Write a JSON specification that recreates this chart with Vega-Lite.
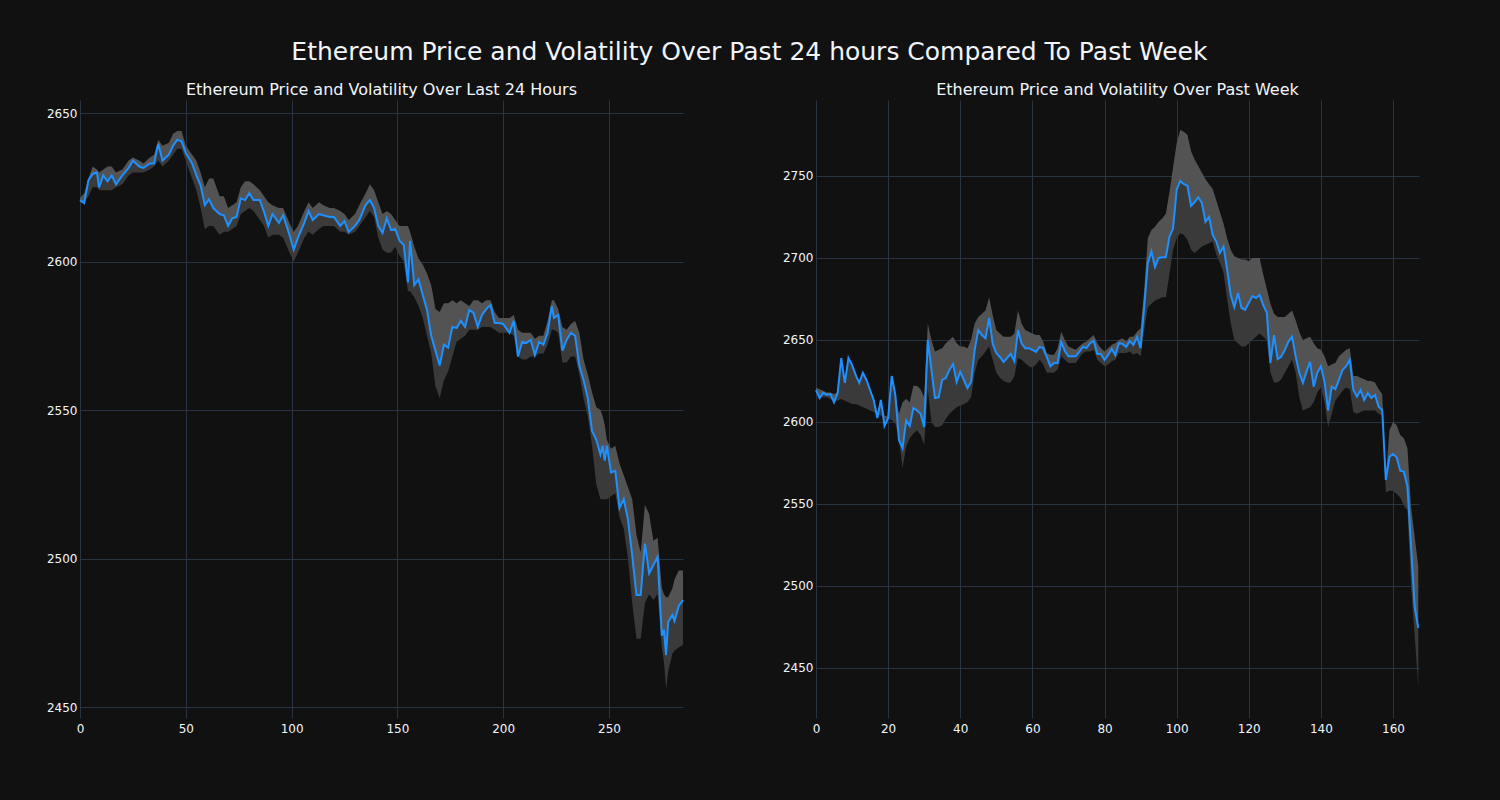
{
"$schema": "https://vega.github.io/schema/vega-lite/v6.json",
"background": "#111111",
"padding": {"left": 46, "top": 40, "right": 78, "bottom": 67},
"config": {
  "view": {"stroke": null},
  "font": "DejaVu Sans",
  "axis": {"domain": false, "ticks": false, "gridColor": "#283442", "gridWidth": 1, "labelColor": "#f2f5fa", "labelFontSize": 12, "labelFont": "DejaVu Sans", "title": null, "format": "d", "labelFlush": false},
  "title": {"color": "#f2f5fa", "font": "DejaVu Sans", "fontWeight": "normal"}
},
"title": {"text": "Ethereum Price and Volatility Over Past 24 hours Compared To Past Week", "fontSize": 25, "anchor": "middle", "offset": 17, "dx": 15},
"spacing": 95,
"datasets": {
"left": [
{"x":0,"p":2620.7,"lo":2619.5,"hi":2621.5},{"x":2,"p":2619.7,"lo":2620,"hi":2623},{"x":4,"p":2627.4,"lo":2622,"hi":2628},{"x":6,"p":2629.5,"lo":2625,"hi":2632},{"x":8,"p":2630,"lo":2625,"hi":2631},{"x":9,"p":2625,"lo":2624,"hi":2630},{"x":11,"p":2629,"lo":2624,"hi":2631},{"x":13,"p":2627,"lo":2624,"hi":2632},{"x":15,"p":2629,"lo":2624,"hi":2632},{"x":17,"p":2626,"lo":2625,"hi":2630},{"x":20,"p":2629,"lo":2626,"hi":2631},{"x":23,"p":2631.5,"lo":2629,"hi":2634},{"x":25,"p":2634,"lo":2630,"hi":2635},{"x":28,"p":2632,"lo":2630,"hi":2634},{"x":30,"p":2631.5,"lo":2630,"hi":2633},{"x":33,"p":2633,"lo":2631,"hi":2635},{"x":35,"p":2633,"lo":2632,"hi":2636},{"x":37,"p":2639.6,"lo":2634,"hi":2641},{"x":39,"p":2634,"lo":2632,"hi":2639},{"x":42,"p":2636,"lo":2634,"hi":2640},{"x":44,"p":2639,"lo":2636,"hi":2643},{"x":46,"p":2641,"lo":2638,"hi":2644},{"x":48,"p":2640.5,"lo":2638,"hi":2644},{"x":50,"p":2636.5,"lo":2634,"hi":2639},{"x":53,"p":2633,"lo":2628,"hi":2636},{"x":55,"p":2629,"lo":2624,"hi":2634},{"x":57,"p":2625.7,"lo":2618,"hi":2630},{"x":59,"p":2619,"lo":2611,"hi":2625},{"x":61,"p":2621,"lo":2612,"hi":2628},{"x":63,"p":2618,"lo":2612,"hi":2628},{"x":66,"p":2616,"lo":2609,"hi":2622},{"x":68,"p":2615.6,"lo":2610,"hi":2622},{"x":70,"p":2612,"lo":2610,"hi":2618},{"x":72,"p":2614.6,"lo":2611,"hi":2619},{"x":74,"p":2615,"lo":2612,"hi":2620},{"x":76,"p":2621.3,"lo":2616,"hi":2625},{"x":78,"p":2620.7,"lo":2617,"hi":2627},{"x":80,"p":2623,"lo":2618,"hi":2627},{"x":82,"p":2620.7,"lo":2617,"hi":2626},{"x":85,"p":2620.7,"lo":2614,"hi":2624},{"x":87,"p":2616.7,"lo":2612,"hi":2622},{"x":89,"p":2612,"lo":2608,"hi":2620},{"x":91,"p":2616,"lo":2609,"hi":2619},{"x":94,"p":2613,"lo":2609,"hi":2618},{"x":96,"p":2615.6,"lo":2608,"hi":2618},{"x":99,"p":2609,"lo":2603,"hi":2613},{"x":101,"p":2604,"lo":2600,"hi":2610},{"x":103,"p":2608,"lo":2603,"hi":2612},{"x":106,"p":2613,"lo":2608,"hi":2617},{"x":108,"p":2617,"lo":2610,"hi":2620},{"x":110,"p":2614,"lo":2609,"hi":2618},{"x":113,"p":2616,"lo":2611,"hi":2620},{"x":115,"p":2615.6,"lo":2612,"hi":2619},{"x":118,"p":2615,"lo":2612,"hi":2618},{"x":120,"p":2615,"lo":2612,"hi":2618},{"x":123,"p":2612,"lo":2610,"hi":2617},{"x":125,"p":2613.6,"lo":2610,"hi":2616},{"x":127,"p":2610,"lo":2609,"hi":2614},{"x":130,"p":2612,"lo":2610,"hi":2616},{"x":132,"p":2614,"lo":2612,"hi":2619},{"x":135,"p":2619,"lo":2615,"hi":2623},{"x":137,"p":2620.7,"lo":2617,"hi":2626},{"x":139,"p":2618,"lo":2615,"hi":2624},{"x":141,"p":2612,"lo":2608,"hi":2620},{"x":143,"p":2609.6,"lo":2604,"hi":2616},{"x":145,"p":2614.6,"lo":2603,"hi":2617},{"x":147,"p":2610.6,"lo":2603,"hi":2616},{"x":149,"p":2611,"lo":2605,"hi":2614},{"x":151,"p":2607,"lo":2602,"hi":2612},{"x":153,"p":2605.6,"lo":2600,"hi":2612},{"x":155,"p":2593,"lo":2590,"hi":2612},{"x":156,"p":2607,"lo":2590,"hi":2610},{"x":158,"p":2592,"lo":2588,"hi":2605},{"x":160,"p":2594,"lo":2585,"hi":2601},{"x":162,"p":2588.7,"lo":2581,"hi":2599},{"x":164,"p":2583.7,"lo":2575,"hi":2596},{"x":166,"p":2575,"lo":2569,"hi":2592},{"x":168,"p":2570,"lo":2558,"hi":2584},{"x":170,"p":2565,"lo":2554,"hi":2583},{"x":172,"p":2572,"lo":2560,"hi":2586},{"x":174,"p":2571,"lo":2563,"hi":2586},{"x":176,"p":2578,"lo":2568,"hi":2587},{"x":178,"p":2577.6,"lo":2573,"hi":2586},{"x":180,"p":2580,"lo":2574,"hi":2587},{"x":182,"p":2578,"lo":2575,"hi":2586},{"x":184,"p":2583.7,"lo":2577,"hi":2585},{"x":186,"p":2582.7,"lo":2577,"hi":2587},{"x":188,"p":2578,"lo":2577,"hi":2587},{"x":190,"p":2582,"lo":2578,"hi":2586},{"x":192,"p":2584,"lo":2578,"hi":2587},{"x":194,"p":2585.4,"lo":2578,"hi":2587},{"x":196,"p":2579.3,"lo":2577,"hi":2583},{"x":198,"p":2579.3,"lo":2576,"hi":2581},{"x":200,"p":2579,"lo":2576,"hi":2581},{"x":203,"p":2576,"lo":2576,"hi":2581},{"x":205,"p":2580,"lo":2575,"hi":2582},{"x":207,"p":2568,"lo":2568,"hi":2577},{"x":209,"p":2573,"lo":2567,"hi":2576},{"x":211,"p":2572.6,"lo":2567,"hi":2576},{"x":213,"p":2573.6,"lo":2568,"hi":2576},{"x":215,"p":2568.5,"lo":2568,"hi":2574},{"x":217,"p":2573,"lo":2569,"hi":2575},{"x":219,"p":2572,"lo":2569,"hi":2575},{"x":221,"p":2576,"lo":2572,"hi":2580},{"x":223,"p":2585,"lo":2577,"hi":2587},{"x":224,"p":2581,"lo":2577,"hi":2587},{"x":226,"p":2582,"lo":2576,"hi":2584},{"x":228,"p":2570,"lo":2566,"hi":2578},{"x":230,"p":2573.6,"lo":2566,"hi":2577},{"x":232,"p":2576,"lo":2568,"hi":2579},{"x":234,"p":2575,"lo":2568,"hi":2580},{"x":236,"p":2565,"lo":2562,"hi":2576},{"x":238,"p":2560,"lo":2554,"hi":2567},{"x":240,"p":2554,"lo":2548,"hi":2562},{"x":242,"p":2543,"lo":2538,"hi":2556},{"x":244,"p":2540,"lo":2525,"hi":2551},{"x":246,"p":2535,"lo":2520,"hi":2550},{"x":247,"p":2538,"lo":2520,"hi":2548},{"x":248,"p":2533,"lo":2520,"hi":2545},{"x":249,"p":2538,"lo":2520,"hi":2540},{"x":251,"p":2529,"lo":2521,"hi":2537},{"x":253,"p":2529.5,"lo":2522,"hi":2538},{"x":255,"p":2517,"lo":2514,"hi":2532},{"x":257,"p":2520,"lo":2510,"hi":2528},{"x":259,"p":2513,"lo":2500,"hi":2524},{"x":261,"p":2501,"lo":2485,"hi":2520},{"x":263,"p":2487.7,"lo":2473,"hi":2508},{"x":265,"p":2487.7,"lo":2473,"hi":2502},{"x":267,"p":2505,"lo":2485,"hi":2518},{"x":269,"p":2495,"lo":2488,"hi":2515},{"x":271,"p":2497.8,"lo":2486,"hi":2506},{"x":273,"p":2500.5,"lo":2488,"hi":2507},{"x":275,"p":2474,"lo":2470,"hi":2490},{"x":276,"p":2476,"lo":2465,"hi":2488},{"x":277,"p":2467.5,"lo":2456,"hi":2487},{"x":278,"p":2478.6,"lo":2462,"hi":2487},{"x":280,"p":2481,"lo":2468,"hi":2490},{"x":281,"p":2479,"lo":2469,"hi":2493},{"x":283,"p":2484,"lo":2470,"hi":2496},{"x":285,"p":2486,"lo":2471,"hi":2496}
],
"right": [
{"x":0,"p":2619.5,"lo":2618,"hi":2621},{"x":1,"p":2614.6,"lo":2615,"hi":2620},{"x":2,"p":2617.7,"lo":2615,"hi":2619},{"x":3,"p":2616.5,"lo":2615,"hi":2618},{"x":4,"p":2617,"lo":2614,"hi":2618},{"x":5,"p":2612,"lo":2613,"hi":2617},{"x":6,"p":2617.7,"lo":2613,"hi":2618},{"x":7,"p":2639,"lo":2614,"hi":2639},{"x":8,"p":2623.8,"lo":2613,"hi":2624},{"x":9,"p":2639,"lo":2612,"hi":2639},{"x":10,"p":2634.8,"lo":2611,"hi":2635},{"x":11,"p":2628.7,"lo":2611,"hi":2629},{"x":12,"p":2623.8,"lo":2610,"hi":2624},{"x":13,"p":2630,"lo":2609,"hi":2630},{"x":14,"p":2625.6,"lo":2608,"hi":2626},{"x":15,"p":2619.5,"lo":2607,"hi":2620},{"x":16,"p":2613.4,"lo":2606,"hi":2614},{"x":17,"p":2602.4,"lo":2605,"hi":2606},{"x":18,"p":2613.4,"lo":2604,"hi":2613},{"x":19,"p":2597.6,"lo":2603,"hi":2604},{"x":20,"p":2602.4,"lo":2602,"hi":2603},{"x":21,"p":2628,"lo":2601,"hi":2628},{"x":22,"p":2616.5,"lo":2599,"hi":2616},{"x":23,"p":2589,"lo":2590,"hi":2605},{"x":24,"p":2584,"lo":2572,"hi":2612},{"x":25,"p":2601,"lo":2585,"hi":2614},{"x":26,"p":2597.6,"lo":2590,"hi":2612},{"x":27,"p":2608.5,"lo":2593,"hi":2622},{"x":28,"p":2607,"lo":2595,"hi":2622},{"x":29,"p":2605,"lo":2592,"hi":2620},{"x":30,"p":2597,"lo":2586,"hi":2615},{"x":31,"p":2650,"lo":2620,"hi":2660},{"x":32,"p":2631.7,"lo":2600,"hi":2650},{"x":33,"p":2614.6,"lo":2597,"hi":2643},{"x":34,"p":2615,"lo":2597,"hi":2644},{"x":35,"p":2625.6,"lo":2598,"hi":2645},{"x":36,"p":2626.8,"lo":2602,"hi":2648},{"x":37,"p":2631.7,"lo":2605,"hi":2650},{"x":38,"p":2635.4,"lo":2607,"hi":2652},{"x":39,"p":2624.4,"lo":2609,"hi":2648},{"x":40,"p":2630.5,"lo":2610,"hi":2646},{"x":41,"p":2625.6,"lo":2611,"hi":2646},{"x":42,"p":2620.7,"lo":2612,"hi":2645},{"x":43,"p":2624.4,"lo":2615,"hi":2650},{"x":44,"p":2644,"lo":2630,"hi":2660},{"x":45,"p":2656,"lo":2638,"hi":2664},{"x":46,"p":2653,"lo":2640,"hi":2666},{"x":47,"p":2651,"lo":2643,"hi":2668},{"x":48,"p":2663.4,"lo":2646,"hi":2676},{"x":49,"p":2647.6,"lo":2638,"hi":2665},{"x":50,"p":2642,"lo":2630,"hi":2656},{"x":51,"p":2639.6,"lo":2627,"hi":2654},{"x":52,"p":2636.6,"lo":2625,"hi":2652},{"x":53,"p":2639,"lo":2624,"hi":2652},{"x":54,"p":2641.5,"lo":2624,"hi":2652},{"x":55,"p":2637,"lo":2628,"hi":2654},{"x":56,"p":2656,"lo":2639,"hi":2668},{"x":57,"p":2648,"lo":2638,"hi":2660},{"x":58,"p":2645,"lo":2636,"hi":2656},{"x":59,"p":2645,"lo":2634,"hi":2655},{"x":60,"p":2644,"lo":2633,"hi":2654},{"x":61,"p":2642.7,"lo":2635,"hi":2653},{"x":62,"p":2645.7,"lo":2638,"hi":2653},{"x":63,"p":2645,"lo":2635,"hi":2649},{"x":64,"p":2639.6,"lo":2630,"hi":2642},{"x":65,"p":2634,"lo":2630,"hi":2641},{"x":66,"p":2636,"lo":2630,"hi":2641},{"x":67,"p":2636,"lo":2632,"hi":2645},{"x":68,"p":2648.8,"lo":2640,"hi":2655},{"x":69,"p":2643.3,"lo":2638,"hi":2650},{"x":70,"p":2640,"lo":2636,"hi":2646},{"x":71,"p":2640,"lo":2636,"hi":2645},{"x":72,"p":2640,"lo":2636,"hi":2644},{"x":73,"p":2642.7,"lo":2639,"hi":2646},{"x":74,"p":2645.7,"lo":2642,"hi":2648},{"x":75,"p":2645,"lo":2643,"hi":2649},{"x":76,"p":2648,"lo":2643,"hi":2651},{"x":77,"p":2649.4,"lo":2644,"hi":2653},{"x":78,"p":2641.5,"lo":2638,"hi":2648},{"x":79,"p":2641.5,"lo":2636,"hi":2645},{"x":80,"p":2637.8,"lo":2634,"hi":2643},{"x":81,"p":2640.8,"lo":2635,"hi":2645},{"x":82,"p":2644.5,"lo":2637,"hi":2647},{"x":83,"p":2640.8,"lo":2638,"hi":2648},{"x":84,"p":2648,"lo":2642,"hi":2650},{"x":85,"p":2647.6,"lo":2642,"hi":2651},{"x":86,"p":2645.7,"lo":2642,"hi":2649},{"x":87,"p":2649.4,"lo":2643,"hi":2652},{"x":88,"p":2647,"lo":2641,"hi":2652},{"x":89,"p":2651.8,"lo":2642,"hi":2655},{"x":90,"p":2645,"lo":2640,"hi":2657},{"x":91,"p":2670,"lo":2656,"hi":2680},{"x":92,"p":2697,"lo":2670,"hi":2712},{"x":93,"p":2704,"lo":2672,"hi":2717},{"x":94,"p":2694.5,"lo":2674,"hi":2719},{"x":95,"p":2700,"lo":2675,"hi":2722},{"x":96,"p":2700.4,"lo":2676,"hi":2724},{"x":97,"p":2700.4,"lo":2676,"hi":2727},{"x":98,"p":2712.8,"lo":2690,"hi":2740},{"x":99,"p":2718,"lo":2705,"hi":2755},{"x":100,"p":2741.5,"lo":2712,"hi":2770},{"x":101,"p":2747,"lo":2715,"hi":2778},{"x":102,"p":2745,"lo":2714,"hi":2777},{"x":103,"p":2744,"lo":2711,"hi":2775},{"x":104,"p":2731.7,"lo":2705,"hi":2765},{"x":105,"p":2734,"lo":2703,"hi":2760},{"x":106,"p":2737,"lo":2705,"hi":2756},{"x":107,"p":2733.5,"lo":2707,"hi":2752},{"x":108,"p":2722,"lo":2708,"hi":2748},{"x":109,"p":2725,"lo":2709,"hi":2745},{"x":110,"p":2714,"lo":2710,"hi":2742},{"x":111,"p":2710,"lo":2702,"hi":2735},{"x":112,"p":2703,"lo":2697,"hi":2728},{"x":113,"p":2707,"lo":2691,"hi":2721},{"x":114,"p":2692.7,"lo":2675,"hi":2712},{"x":115,"p":2677.4,"lo":2660,"hi":2705},{"x":116,"p":2670,"lo":2650,"hi":2701},{"x":117,"p":2678.6,"lo":2648,"hi":2700},{"x":118,"p":2669.5,"lo":2646,"hi":2699},{"x":119,"p":2668.3,"lo":2646,"hi":2699},{"x":120,"p":2672.6,"lo":2648,"hi":2698},{"x":121,"p":2676.8,"lo":2650,"hi":2700},{"x":122,"p":2675.6,"lo":2652,"hi":2700},{"x":123,"p":2677.4,"lo":2654,"hi":2700},{"x":124,"p":2671.3,"lo":2652,"hi":2690},{"x":125,"p":2666.5,"lo":2650,"hi":2681},{"x":126,"p":2636,"lo":2630,"hi":2672},{"x":127,"p":2653,"lo":2624,"hi":2666},{"x":128,"p":2638.4,"lo":2624,"hi":2664},{"x":129,"p":2639.8,"lo":2626,"hi":2664},{"x":130,"p":2644,"lo":2630,"hi":2664},{"x":131,"p":2649,"lo":2634,"hi":2666},{"x":132,"p":2652,"lo":2638,"hi":2668},{"x":133,"p":2640,"lo":2630,"hi":2662},{"x":134,"p":2630,"lo":2615,"hi":2655},{"x":135,"p":2623.8,"lo":2607,"hi":2650},{"x":136,"p":2630.7,"lo":2608,"hi":2651},{"x":137,"p":2636.6,"lo":2609,"hi":2652},{"x":138,"p":2621.5,"lo":2612,"hi":2648},{"x":139,"p":2630,"lo":2618,"hi":2645},{"x":140,"p":2634,"lo":2621,"hi":2644},{"x":141,"p":2624.6,"lo":2612,"hi":2640},{"x":142,"p":2607,"lo":2597,"hi":2634},{"x":143,"p":2621.5,"lo":2605,"hi":2635},{"x":144,"p":2620,"lo":2613,"hi":2636},{"x":145,"p":2625.6,"lo":2616,"hi":2640},{"x":146,"p":2631.7,"lo":2619,"hi":2642},{"x":147,"p":2634,"lo":2621,"hi":2644},{"x":148,"p":2637.8,"lo":2620,"hi":2645},{"x":149,"p":2619.5,"lo":2606,"hi":2628},{"x":150,"p":2615.4,"lo":2605,"hi":2628},{"x":151,"p":2619.5,"lo":2606,"hi":2627},{"x":152,"p":2613.4,"lo":2607,"hi":2626},{"x":153,"p":2617.6,"lo":2607,"hi":2625},{"x":154,"p":2614.6,"lo":2607,"hi":2625},{"x":155,"p":2616.5,"lo":2607,"hi":2624},{"x":156,"p":2609.3,"lo":2605,"hi":2620},{"x":157,"p":2607.3,"lo":2604,"hi":2617},{"x":158,"p":2564.6,"lo":2557,"hi":2566},{"x":159,"p":2578.8,"lo":2558,"hi":2595},{"x":160,"p":2580.5,"lo":2558,"hi":2600},{"x":161,"p":2578.5,"lo":2556,"hi":2598},{"x":162,"p":2570.3,"lo":2554,"hi":2592},{"x":163,"p":2569.7,"lo":2549,"hi":2590},{"x":164,"p":2560.5,"lo":2546,"hi":2584},{"x":165,"p":2524,"lo":2500,"hi":2548},{"x":166,"p":2487.4,"lo":2470,"hi":2530},{"x":167,"p":2474.4,"lo":2439,"hi":2512}
]
},
"hconcat": [
{
  "width": 603, "height": 618,
  "title": {"text": "Ethereum Price and Volatility Over Last 24 Hours", "fontSize": 16, "offset": 2},
  "data": {"name": "left"},
  "encoding": {
    "x": {"field": "x", "type": "quantitative", "scale": {"domain": [0, 285], "nice": false, "zero": false}, "axis": {"values": [0, 50, 100, 150, 200, 250], "labelPadding": 5}}
  },
  "layer": [
    {"mark": {"type": "area", "color": "#535353", "opacity": 1},
     "encoding": {"y": {"field": "hi", "type": "quantitative", "scale": {"domain": [2446.3, 2654.4], "nice": false, "zero": false}, "axis": {"values": [2450, 2500, 2550, 2600, 2650], "labelPadding": 3}}, "y2": {"field": "p"}}},
    {"mark": {"type": "area", "color": "#3a3a3a", "opacity": 1},
     "encoding": {"y": {"field": "p", "type": "quantitative"}, "y2": {"field": "lo"}}},
    {"mark": {"type": "line", "color": "#1e90ff", "strokeWidth": 2},
     "encoding": {"y": {"field": "p", "type": "quantitative"}}}
  ]
},
{
  "width": 603, "height": 618,
  "title": {"text": "Ethereum Price and Volatility Over Past Week", "fontSize": 16, "offset": 2},
  "data": {"name": "right"},
  "encoding": {
    "x": {"field": "x", "type": "quantitative", "scale": {"domain": [0, 167.2], "nice": false, "zero": false}, "axis": {"values": [0, 20, 40, 60, 80, 100, 120, 140, 160], "labelPadding": 5}}
  },
  "layer": [
    {"mark": {"type": "area", "color": "#535353", "opacity": 1},
     "encoding": {"y": {"field": "hi", "type": "quantitative", "scale": {"domain": [2419.5, 2796.3], "nice": false, "zero": false}, "axis": {"values": [2450, 2500, 2550, 2600, 2650, 2700, 2750], "labelPadding": 3}}, "y2": {"field": "p"}}},
    {"mark": {"type": "area", "color": "#3a3a3a", "opacity": 1},
     "encoding": {"y": {"field": "p", "type": "quantitative"}, "y2": {"field": "lo"}}},
    {"mark": {"type": "line", "color": "#1e90ff", "strokeWidth": 2},
     "encoding": {"y": {"field": "p", "type": "quantitative"}}}
  ]
}
]
}
